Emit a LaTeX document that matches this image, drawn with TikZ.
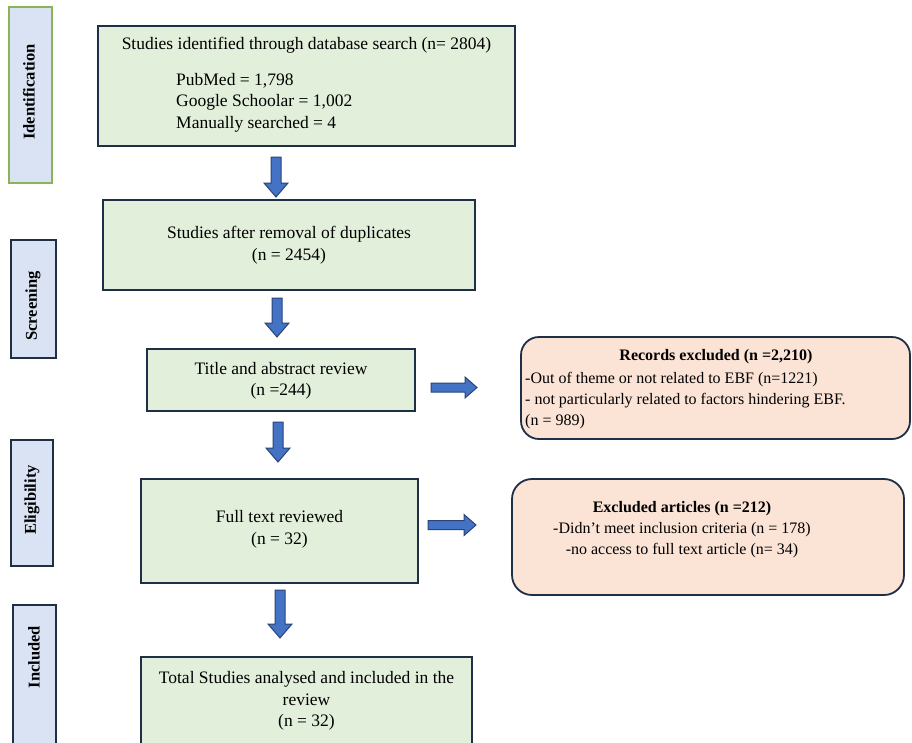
\documentclass[tikz,border=0pt]{standalone}
\usepackage{fontspec}
\setmainfont{Liberation Serif}
\usetikzlibrary{calc}
\definecolor{boxgreen}{HTML}{E2EFDA}
\definecolor{navy}{HTML}{1F2F45}
\definecolor{sideblue}{HTML}{DAE3F3}
\definecolor{sidegreen}{HTML}{8CB35A}
\definecolor{peach}{HTML}{FBE3D6}
\definecolor{arrowfill}{HTML}{4472C4}
\definecolor{arrowline}{HTML}{2A4478}
\begin{document}
\begin{tikzpicture}[x=1pt,y=-1pt,
 mainbox/.style={draw=navy, line width=2pt, fill=boxgreen, inner sep=0pt, outer sep=0pt},
 sidebox/.style={draw=navy, line width=2pt, fill=sideblue, inner sep=0pt, outer sep=0pt},
 exclbox/.style={draw=navy, line width=1.8pt, fill=peach, rounded corners=18pt, inner sep=0pt, outer sep=0pt},
 maintext/.style={font=\fontsize{17.5}{21.5}\selectfont, align=center, inner sep=0pt},
 sidetext/.style={font=\fontsize{16.5}{20}\selectfont\bfseries, rotate=90, inner sep=0pt},
 excltext/.style={font=\fontsize{16}{21}\selectfont, inner sep=0pt},
 blockarrow/.style={draw=arrowline, line width=1pt, fill=arrowfill, line join=miter},
 downarr/.style={to path={let \p1=(\tikztostart), \p2=(\tikztotarget) in
   (\x1-5pt,\y1) -- (\x1+5pt,\y1) -- (\x1+5pt,\y2+14pt) -- (\x1+12pt,\y2+14pt) -- (\x1,\y2)
   -- (\x1-12pt,\y2+14pt) -- (\x1-5pt,\y2+14pt) -- cycle}},
 rightarr/.style={to path={let \p1=(\tikztostart), \p2=(\tikztotarget) in
   (\x1,\y1-4.5pt) -- (\x1,\y1+4.5pt) -- (\x2-12pt,\y1+4.5pt) -- (\x2-12pt,\y1+10.5pt) -- (\x2,\y1)
   -- (\x2-12pt,\y1-10.5pt) -- (\x2-12pt,\y1-4.5pt) -- cycle}},
]
\useasboundingbox (0,0) rectangle (912,742);
\clip (0,0) rectangle (912,742);

% side labels
\node[sidebox, draw=sidegreen, minimum width=43pt, minimum height=176pt] (sid) at (30.5,95) {};
\node[sidetext] (sidt) at (29,92) {Identification};
\node[sidebox, minimum width=45pt, minimum height=118pt] (ssc) at (33.5,299) {};
\node[sidetext] (ssct) at (33,306) {Screening};
\node[sidebox, minimum width=42pt, minimum height=126pt] (sel) at (32,503) {};
\node[sidetext] (selt) at (32,500) {Eligibility};
\node[sidebox, minimum width=43pt, minimum height=170pt] (sin) at (34.5,690) {};
\node[sidetext] (sint) at (34,657) {Included};

% main boxes
\node[mainbox, minimum width=417pt, minimum height=120pt] (b1) at (306.5,86) {};
\node[maintext] (b1t) at (306.5,45) {Studies identified through database search (n= 2804)};
\node[maintext, align=left, anchor=west] (b1l) at (176,102.5) {PubMed = 1,798\\Google Schoolar = 1,002\\Manually searched = 4};

\node[mainbox, minimum width=372pt, minimum height=90pt] (b2) at (289,245) {};
\node[maintext] (b2t) at (289,245) {Studies after removal of duplicates\\(n = 2454)};

\node[mainbox, minimum width=268pt, minimum height=62pt] (b3) at (281,380) {};
\node[maintext] (b3t) at (281,381) {Title and abstract review\\(n =244)};

\node[mainbox, minimum width=277pt, minimum height=104pt] (b4) at (279.5,531) {};
\node[maintext] (b4t) at (279.5,529.5) {Full text reviewed\\(n = 32)};

\node[mainbox, minimum width=331pt, minimum height=106pt] (b5) at (306.5,710) {};
\node[maintext] (b5t) at (306.5,701) {Total Studies analysed and included in the\\review\\(n = 32)};

% exclusion boxes
\node[exclbox, minimum width=389pt, minimum height=102pt] (r1) at (715.5,388) {};
\node[excltext, font=\fontsize{16}{21}\selectfont\bfseries] (r1t) at (716,357) {Records excluded (n =2,210)};
\node[excltext, align=left, anchor=west] (r1l) at (525,401) {-Out of theme or not related to EBF (n=1221)\\- not particularly related to factors hindering EBF.\\(n = 989)};

\node[exclbox, rounded corners=20pt, minimum width=392pt, minimum height=116pt] (r2) at (708,537) {};
\node[excltext, align=center] (r2t) at (682,530) {\textbf{Excluded articles (n =212)}\\-Didn’t meet inclusion criteria (n = 178)\\-no access to full text article (n= 34)};

% block arrows
\draw[blockarrow, downarr] ($(b1.south)+(-30.5,11)$) to ($(b2.north)+(-13,-3)$);
\draw[blockarrow, downarr] ($(b2.south)+(-12,8)$) to ($(b3.north)+(-4,-12)$);
\draw[blockarrow, rightarr] ($(b3.east)+(16,7.5)$) to ($(r1.west)+(-44,-0.5)$);
\draw[blockarrow, downarr] ($(b3.south)+(-3,11)$) to ($(b4.north)+(-1.5,-17)$);
\draw[blockarrow, rightarr] ($(b4.east)+(10,-6)$) to ($(r2.west)+(-36,-12)$);
\draw[blockarrow, downarr] ($(b4.south)+(0.5,7)$) to ($(b5.north)+(-26.5,-19)$);
\end{tikzpicture}
\end{document}
